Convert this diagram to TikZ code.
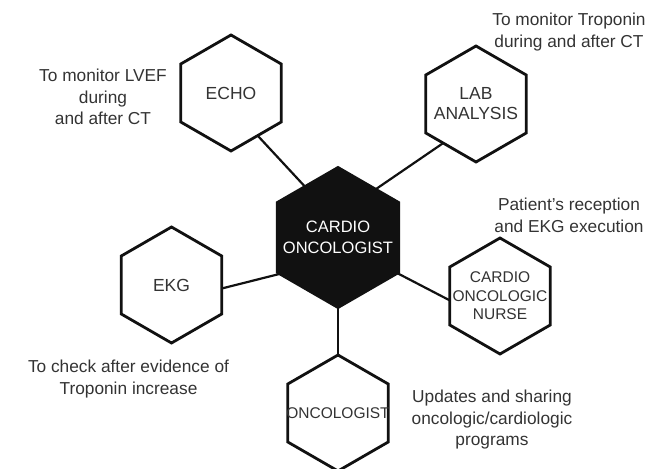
\documentclass[tikz,border=0pt]{standalone}
\usepackage{fontspec}
\setmainfont{Liberation Sans}
\usetikzlibrary{shapes.geometric}
\definecolor{HexInk}{HTML}{111111}
\definecolor{HexText}{HTML}{333333}
\tikzset{
  every node/.style={text=HexText},
  hexcell/.style={regular polygon, regular polygon sides=6, shape border rotate=30, draw=HexInk, line width=1.4pt, fill=white, inner sep=0pt, outer sep=0pt, minimum size=58pt},
  hexcore/.style={hexcell, fill=HexInk, minimum size=70pt},
  cellname/.style={align=center, font=\fontsize{8.75}{10}\selectfont},
  smallname/.style={align=center, font=\fontsize{7.75}{9.25}\selectfont},
  link/.style={draw=HexInk, line width=1.1pt},
  note/.style={align=center, font=\fontsize{8.65}{10.75}\selectfont},
}

\begin{document}
\begin{tikzpicture}[x=0.5pt,y=-0.5pt]
  \useasboundingbox (0,0) rectangle (652,469);
  % hexagons
  \node[hexcore, label={[cellname, text=white, font=\fontsize{8.25}{10.5}\selectfont]center:{CARDIO\\ONCOLOGIST}}] (core) at (338,237.5) {};
  \node[hexcell, label={[cellname]center:ECHO}] (echo) at (231,93) {};
  \node[hexcell, label={[cellname]center:{LAB\\ANALYSIS}}] (lab) at (476,104) {};
  \node[hexcell, label={[cellname]center:EKG}] (ekg) at (171.5,285) {};
  \node[hexcell, label={[smallname]center:{CARDIO\\ONCOLOGIC\\NURSE}}] (nurse) at (500,296) {};
  \node[hexcell, label={[smallname]center:ONCOLOGIST}] (onc) at (338,413) {};
  % links to the centre
  \draw[link] (echo.-58) -- (core.123);
  \draw[link] (lab.230) -- (core.52);
  \draw[link] (ekg.-4) -- (core.212);
  \draw[link] (core.-31) -- (nurse.185);
  \draw[link] (core.-90) -- (onc.90);
  % notes
  \node[note] (echonote) at (103,97) {To monitor LVEF\\during\\and after CT};
  \node[note] (labnote) at (569,32) {To monitor Troponin\\during and after CT};
  \node[note] (nursenote) at (569,215.5) {Patient's reception\\and EKG execution};
  \node[note] (ekgnote) at (128.5,379) {To check after evidence of\\Troponin increase};
  \node[note] (oncnote) at (492,420) {Updates and sharing\\oncologic/cardiologic\\programs};
\end{tikzpicture}
\end{document}
